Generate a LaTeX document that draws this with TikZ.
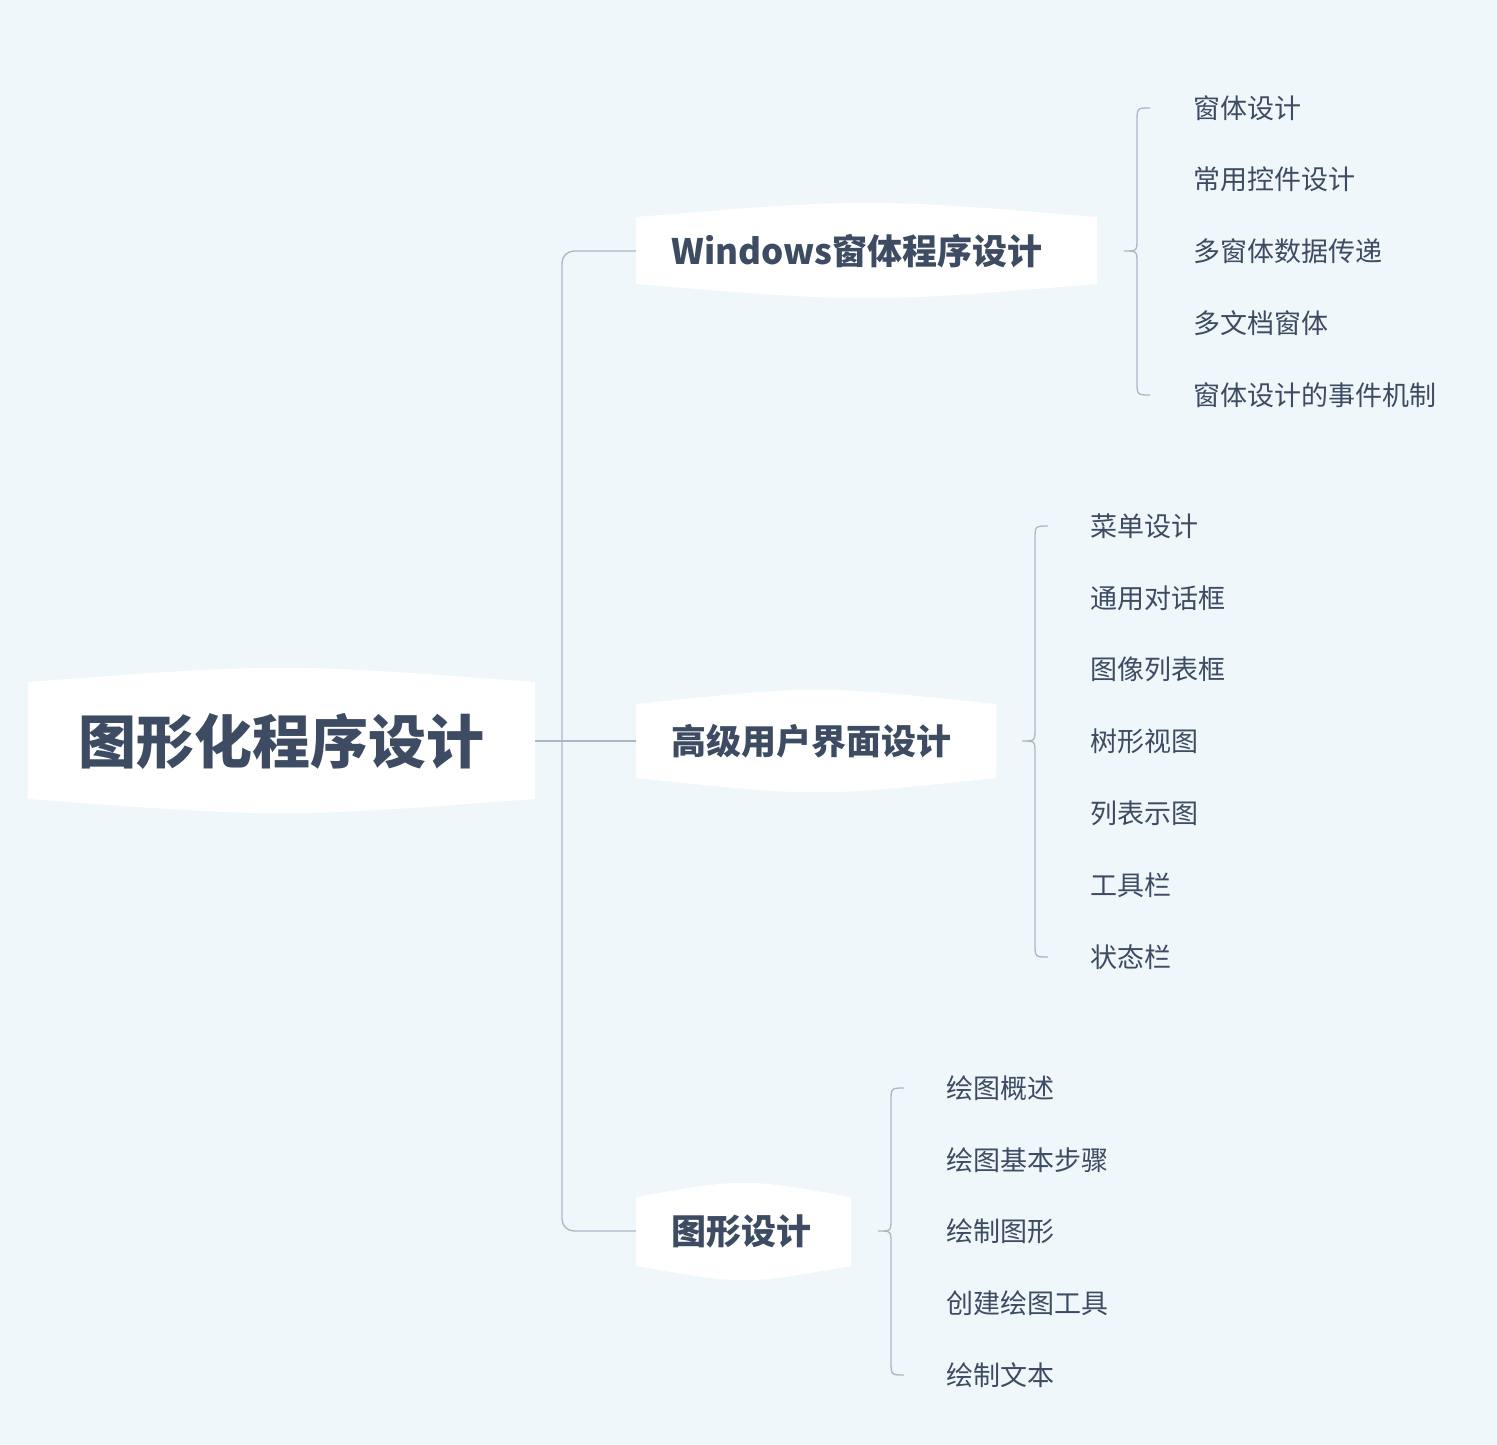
\documentclass[tikz,border=0pt]{standalone}
\usepackage{fontspec}
\setmainfont{Noto Sans CJK SC}
\definecolor{bg}{HTML}{EFF7FA}
\definecolor{tx}{HTML}{3D4B63}
\definecolor{ln}{HTML}{A9B8C8}
\tikzset{leaf/.style={anchor=west,text=tx,font=\fontsize{27}{30}\selectfont},
 br/.style={anchor=west,text=tx,font=\fontsize{35}{40}\selectfont\bfseries},
 con/.style={draw=ln,line width=1.3pt}}
\newcommand{\bubble}[4]{% x1 x2 ytop ybottom
 \fill[white] (#1,{#3+14}) .. controls ({(#1+#2)/2},{#3-5}) .. (#2,{#3+14}) -- (#2,{#4-14}) .. controls ({(#1+#2)/2},{#4+5}) .. (#1,{#4-14}) -- cycle;}
\newcommand{\bracepath}[4]{% x tip top mid bottom -> #1 x, #2 top, #3 mid, #4 bottom
 \draw[con] ({#1+13},#2) .. controls (#1,#2) .. (#1,{#2+14}) -- (#1,{#3-12}) .. controls (#1,#3) .. ({#1-13},#3)
   .. controls (#1,#3) .. (#1,{#3+12}) -- (#1,{#4-14}) .. controls (#1,#4) .. ({#1+13},#4);}
\begin{document}
\begin{tikzpicture}[x=1pt,y=-1pt]
\fill[bg] (0,0) rectangle (1497,1445);
\useasboundingbox (0,0) rectangle (1497,1445);
% trunk
\draw[con] (535,741) -- (636,741);
\draw[con] (636,251) -- (574,251) to[out=180,in=90] (562,263) -- (562,1219) to[out=-90,in=180] (574,1231) -- (636,1231);
\bubble{28}{535}{668}{813}
\bubble{636}{1097}{203}{298}
\bubble{636}{996}{690}{792}
\bubble{636}{851}{1183}{1280}
\node[anchor=center,text=tx,font=\fontsize{58}{62}\selectfont\bfseries] (root) at (281,741) {图形化程序设计};
\node[br] (w) at (668,251) {Windows窗体程序设计};
\node[br] (g) at (668,741) {高级用户界面设计};
\node[br] (t) at (668,1231) {图形设计};
\bracepath{1137}{108}{251}{395}
\bracepath{1035}{526}{741}{957}
\bracepath{891}{1088}{1231}{1375}
\foreach \s [count=\i from 0] in {窗体设计,常用控件设计,多窗体数据传递,多文档窗体,窗体设计的事件机制}
 \node[leaf] (w\i) at (1190,{108+71.75*\i}) {\s};
\foreach \s [count=\i from 0] in {菜单设计,通用对话框,图像列表框,树形视图,列表示图,工具栏,状态栏}
 \node[leaf] (g\i) at (1087,{526+71.83*\i}) {\s};
\foreach \s [count=\i from 0] in {绘图概述,绘图基本步骤,绘制图形,创建绘图工具,绘制文本}
 \node[leaf] (t\i) at (943,{1088+71.75*\i}) {\s};
\end{tikzpicture}
\end{document}
